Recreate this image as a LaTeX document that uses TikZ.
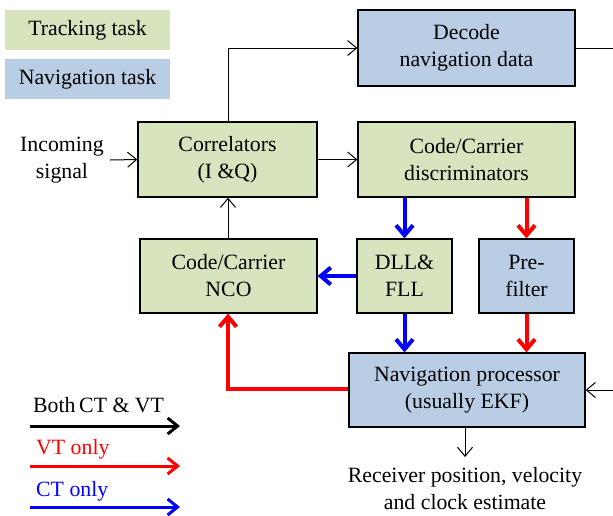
\documentclass[tikz,border=0pt]{standalone}
\usepackage{fontspec}
\setmainfont{Liberation Serif}
\usetikzlibrary{arrows.meta,calc}
\definecolor{trk}{HTML}{D7E4BD}
\definecolor{nvg}{HTML}{B9CDE5}
\definecolor{myred}{HTML}{FF0000}
\definecolor{myblue}{HTML}{0000FF}
\begin{document}
\begin{tikzpicture}[x=1pt,y=-1pt,
  font=\fontsize{21.8}{27}\selectfont,
  box/.style={draw=black, line width=1.3pt, align=center, inner sep=0pt},
  tbox/.style={box, fill=trk},
  nbox/.style={box, fill=nvg},
  leg/.style={align=center, inner sep=0pt},
  thin/.style={line width=1pt, -{Straight Barb[length=9pt,width=15pt,line width=1pt]}},
  thick/.style={line width=4pt, -{Straight Barb[length=10pt,width=17pt,line width=4pt]}},
  thickk/.style={line width=3pt, -{Straight Barb[length=10pt,width=16pt,line width=3pt]}},
]
\useasboundingbox (0,0) rectangle (613,515);
% legend boxes
\node[leg, fill=trk, minimum width=165pt, minimum height=40pt] (lt) at (87.5,30) {Tracking task};
\node[leg, fill=nvg, minimum width=165pt, minimum height=40pt] (ln) at (87.5,79) {Navigation task};
% boxes
\node[nbox, minimum width=217pt, minimum height=76pt] (dec) at (466.5,48) {Decode\\navigation data};
\node[tbox, minimum width=179pt, minimum height=75pt] (cor) at (227.5,159.5) {Correlators\\(I \&Q)};
\node[tbox, minimum width=217pt, minimum height=75pt] (dis) at (466.5,159.5) {Code/Carrier\\discriminators};
\node[tbox, minimum width=177pt, minimum height=74pt] (nco) at (228.5,276) {Code/Carrier\\NCO};
\node[tbox, minimum width=95pt, minimum height=74pt] (dll) at (404.5,276) {DLL\&\\FLL};
\node[nbox, minimum width=95pt, minimum height=74pt] (pre) at (526.5,276) {Pre-\\filter};
\node[nbox, minimum width=236pt, minimum height=74pt] (nav) at (467,390) {Navigation processor\\(usually EKF)};
% texts
\node[leg] (inc) at (62,160) {Incoming\\signal};
\node[leg] (out) at (465,489) {Receiver position, velocity\\and clock estimate};
% coordinates
\coordinate (incs) at (110,160);
\coordinate (decr) at (613,48);
\coordinate (navr) at (613,390);
\coordinate (outt) at (465,457);
% black connectors
\draw[thin] (cor.north -| 228,0) |- (dec.west);
\draw[thin] (cor.east) -- (dis.west);
\draw[thin] (nco.north -| 228,0) -- (cor.south -| 228,0);
\draw[thin] (incs) -- (cor.west);
\draw[line width=1pt] (dec.east) -- (decr);
\draw[thin] (navr) -- (nav.east);
\draw[thin] (nav.south -| outt) -- (outt);
% blue
\draw[thick, myblue] (dis.south -| dll.north) -- (dll.north);
\draw[thick, myblue] (dll.south) -- (nav.north -| dll.south);
\draw[thick, myblue] (dll.west) -- (nco.east);
% red
\draw[thick, myred] (dis.south -| pre.north) -- (pre.north);
\draw[thick, myred] (pre.south) -- (nav.north -| pre.south);
\draw[thick, myred] (nav.west |- 0,389) -| (nco.south -| 228,0);
% legend arrows
\node[leg, anchor=base west] (lb) at (33,412) {Both\,CT \& VT};
\node[leg, anchor=base west, text=myred] (lv) at (36,454) {VT only};
\node[leg, anchor=base west, text=myblue] (lc) at (36,496) {CT only};
\coordinate (a1) at (30,426); \coordinate (b1) at (180,426);
\coordinate (a2) at (30,466); \coordinate (b2) at (180,466);
\coordinate (a3) at (30,507); \coordinate (b3) at (180,507);
\draw[thickk, black] (a1) -- (b1);
\draw[thickk, myred] (a2) -- (b2);
\draw[thickk, myblue] (a3) -- (b3);
\end{tikzpicture}
\end{document}
